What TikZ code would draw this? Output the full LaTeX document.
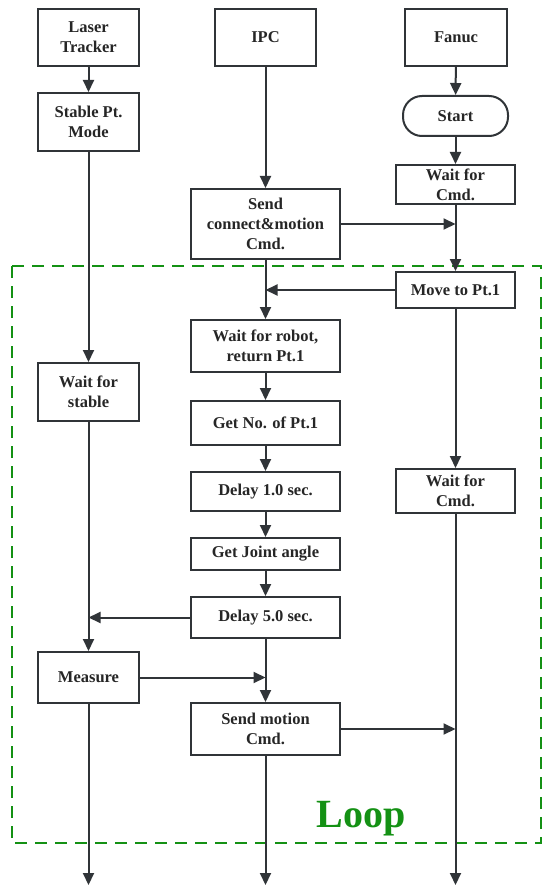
\documentclass[tikz,border=0pt]{standalone}
\usepackage{fontspec}
\setmainfont{Liberation Serif}
\usetikzlibrary{arrows.meta}
\definecolor{lnc}{RGB}{48,52,56}
\definecolor{loopg}{RGB}{20,145,20}
\tikzset{
  box/.style={draw=lnc, line width=2pt, fill=white, align=center, inner sep=0pt,
    font=\fontsize{16.5}{20}\selectfont\bfseries, text=black!85},
  conn/.style={draw=lnc, line width=2pt, -{Triangle[length=12pt,width=11pt]}},
}
\begin{document}
\begin{tikzpicture}[x=1pt,y=-1pt]
\useasboundingbox (0,0) rectangle (550,896);
\fill[white] (0,0) rectangle (550,896);
% loop frame
\draw[loopg, line width=2.6pt, dash pattern=on 12pt off 8pt] (12,266) rectangle (541,843);
\node[anchor=base, text=loopg, font=\fontsize{40}{44}\selectfont\bfseries] (loop) at (361,827) {Loop};

% column 1
\node[box, minimum width=101pt, minimum height=57pt] (lt) at (88.5,37.5) {Laser\\Tracker};
\node[box, minimum width=101pt, minimum height=58pt] (spm) at (88.5,122) {Stable Pt.\\Mode};
\node[box, minimum width=101pt, minimum height=58pt] (wfs) at (88.5,392) {Wait for\\stable};
\node[box, minimum width=101pt, minimum height=51pt] (meas) at (88.5,677.5) {Measure};
\coordinate (e1) at (88.5,885);

% column 2
\node[box, minimum width=101pt, minimum height=57pt] (ipc) at (265.5,37.5) {IPC};
\node[box, minimum width=149pt, minimum height=70pt] (send) at (265.5,224) {Send\\connect\&motion\\Cmd.};
\node[box, minimum width=149pt, minimum height=52pt] (wfr) at (265.5,346) {Wait for robot,\\return Pt.1};
\node[box, minimum width=149pt, minimum height=44pt] (getno) at (265.5,423) {Get No. of Pt.1};
\node[box, minimum width=149pt, minimum height=39pt] (d1) at (265.5,491.5) {Delay 1.0 sec.};
\node[box, minimum width=149pt, minimum height=32pt] (gja) at (265.5,554) {Get Joint angle};
\node[box, minimum width=149pt, minimum height=41pt] (d5) at (265.5,617.5) {Delay 5.0 sec.};
\node[box, minimum width=149pt, minimum height=52pt] (smc) at (265.5,729) {Send motion\\Cmd.};
\coordinate (e2) at (265.5,885);

% column 3
\node[box, minimum width=102pt, minimum height=57pt] (fan) at (456,37.5) {Fanuc};
\node[box, minimum width=105pt, minimum height=40pt, rounded corners=19pt] (start) at (455.5,116) {Start};
\node[box, minimum width=119pt, minimum height=39pt] (wfc1) at (455.5,184.5) {Wait for\\Cmd.};
\node[box, minimum width=119pt, minimum height=36pt] (move) at (455.5,290) {Move to Pt.1};
\node[box, minimum width=119pt, minimum height=44pt] (wfc2) at (455.5,491) {Wait for\\Cmd.};
\coordinate (e3) at (455.5,885);

% column 1 connectors
\draw[conn] (lt) -- (spm);
\draw[conn] (spm) -- (wfs);
\draw[conn] (wfs) -- (meas);
\draw[conn] (d5.west) -- (wfs.south |- d5.west);
\draw[conn] (meas) -- (e1);

% column 2 connectors
\draw[conn] (ipc) -- (send);
\draw[conn] (send) -- (wfr);
\draw[conn] (move.west) -- (send.south |- move.west);
\draw[conn] (wfr) -- (getno);
\draw[conn] (getno) -- (d1);
\draw[conn] (d1) -- (gja);
\draw[conn] (gja) -- (d5);
\draw[conn] (d5) -- (smc);
\draw[conn] (meas.east) -- (d5.south |- meas.east);
\draw[conn] (smc) -- (e2);

% column 3 connectors
\draw[conn] (fan) -- (start);
\draw[conn] (start) -- (wfc1);
\draw[conn] (wfc1) -- (move);
\draw[conn] (send.east) -- (wfc1.south |- send.east);
\draw[conn] (move) -- (wfc2);
\draw[conn] (wfc2) -- (e3);
\draw[conn] (smc.east) -- (wfc2.south |- smc.east);
\end{tikzpicture}
\end{document}
